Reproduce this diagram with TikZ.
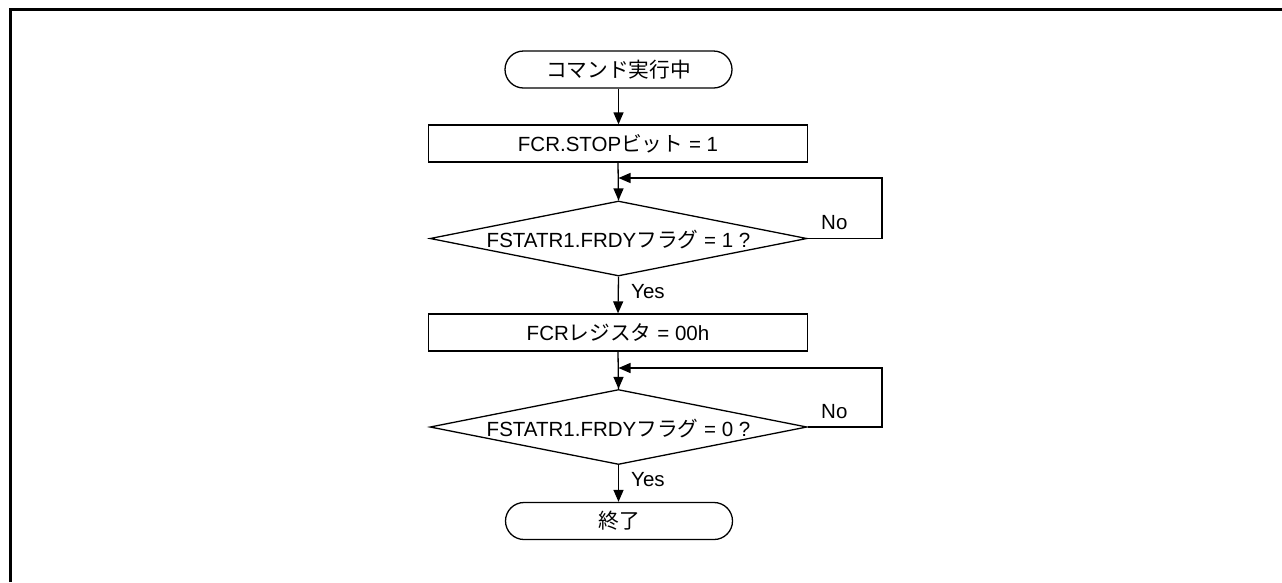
\documentclass[tikz,border=0pt]{standalone}
\usepackage{fontspec}
\setmainfont{Liberation Sans}
\newfontfamily\jp{Noto Sans CJK JP}[Scale=1.01]
\usetikzlibrary{shapes.geometric,arrows.meta}
\begin{document}
\begin{tikzpicture}[x=1pt,y=-1pt,
  every node/.style={font=\fontsize{20.5}{24}\selectfont},
  term/.style={draw,line width=1.3pt,rounded corners=18.5pt,minimum width=227pt,minimum height=37pt,inner sep=0pt},
  proc/.style={draw,line width=1.3pt,minimum width=379pt,minimum height=37pt,inner sep=0pt},
  dec/.style={draw,line width=1.3pt,shape=diamond,minimum width=377pt,minimum height=75pt,inner sep=0pt},
  flow/.style={line width=1.3pt,-{Triangle[length=12pt,width=10pt]}},
  line/.style={line width=1.3pt},
  lab/.style={inner sep=0pt,anchor=west}]
\useasboundingbox (0,0) rectangle (1282,582);
\draw[line width=3pt] (10.5,582) -- (10.5,9.5) -- (1282,9.5);
\node[term] (start) at (618.5,69.5) {{\jp コマンド実行中}};
\node[proc] (r1) at (618,143.5) {FCR.STOP{\jp ビット} = 1};
\node[dec] (d1) at (618.5,238.5) {};
\node[inner sep=0pt] (t1) at (618.5,240) {FSTATR1.FRDY{\jp フラグ} = 1 ?};
\node[proc] (r2) at (618,332.5) {FCR{\jp レジスタ} = 00h};
\node[dec] (d2) at (618.5,427) {};
\node[inner sep=0pt] (t2) at (618.5,428.5) {FSTATR1.FRDY{\jp フラグ} = 0 ?};
\node[term] (end) at (619,521) {{\jp 終了}};
\coordinate (j1) at (618.5,178);
\coordinate (j2) at (618.5,368);
\coordinate (c1) at (882,238.5);
\coordinate (c2) at (882,427);
\draw[flow] (start) -- (start.south |- r1.north);
\draw[line] (r1.south) -- (d1.north);
\draw[flow] (j1) -- (d1.north);
\draw[flow] (d1.east) -- (c1) -- (c1 |- j1) -- (j1);
\node[lab] (no1) at (821,223) {No};
\draw[flow] (d1.south) -- (r2.north);
\node[lab] (yes1) at (631,292) {Yes};
\draw[line] (r2.south) -- (d2.north);
\draw[flow] (j2) -- (d2.north);
\draw[flow] (d2.east) -- (c2) -- (c2 |- j2) -- (j2);
\node[lab] (no2) at (821,412) {No};
\draw[flow] (d2.south) -- (end.north -| d2.south);
\node[lab] (yes2) at (631,480) {Yes};
\end{tikzpicture}
\end{document}
